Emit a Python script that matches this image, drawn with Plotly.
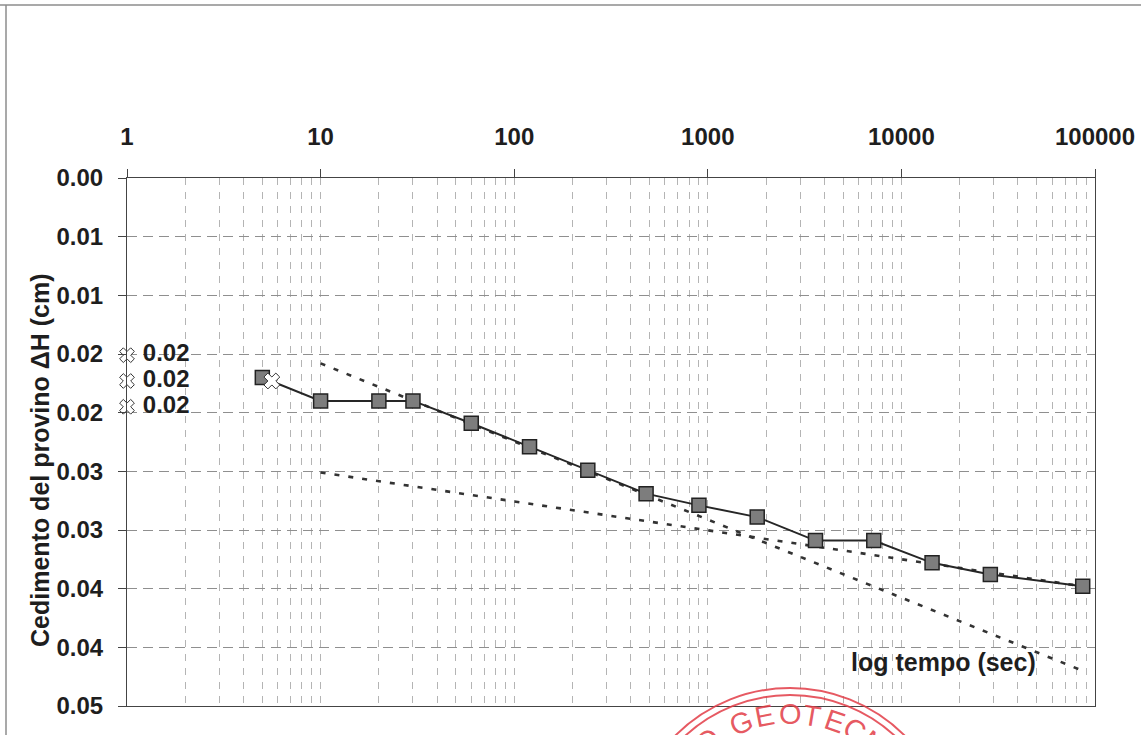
import numpy as np
import plotly.graph_objects as go

# curva cedimento - tempo
tempo = [5, 10, 20, 30, 60, 120, 240, 480, 900, 1800, 3600, 7200, 14400, 28800, 86400]
cedimento = [0.0170, 0.0190, 0.0190, 0.0190, 0.0209, 0.0229, 0.0249, 0.0269,
             0.0279, 0.0289, 0.0309, 0.0309, 0.0328, 0.0338, 0.0348]

# rette di costruzione (tratteggiate)
retta1_t = [10, 86400]
retta1_y = [0.0158, 0.0420]
retta2_t = [10, 86400]
retta2_y = [0.0251, 0.0348]

# punti ausiliari sull'asse (d0, d50, d100) + punto t0
aux_t = [1, 1, 1]
aux_y = [0.0151, 0.0173, 0.0195]
aux_lbl = ['0.02', '0.02', '0.02']
t0_t = [5.6]
t0_y = [0.0173]

x_ticks = [1, 10, 100, 1000, 10000, 100000]
x_tick_text = ['1', '10', '100', '1000', '10000', '100000']
y_ticks = [0.0, 0.005, 0.010, 0.015, 0.020, 0.025, 0.030, 0.035, 0.040, 0.045]
y_tick_text = ['0.00', '0.01', '0.01', '0.02', '0.02', '0.03', '0.03', '0.04', '0.04', '0.05']

stamp_letters = ['I', 'O', 'G', 'E', 'O', 'T', 'E', 'C', 'N']
stamp_angles = [-46, -37, -21, -11, 0, 9.5, 19, 28.5, 38]

W, H = 1141, 735
L, R, T, B = 127, 46, 178, 29
FONT = 'Liberation Sans, Arial, sans-serif'
TXT = '#1e1e1e'


def px2paper(px, py):
    return (px - L) / (W - L - R), 1 - (py - T) / (H - T - B)


fig = go.Figure()

fig.add_trace(go.Scatter(x=retta1_t, y=retta1_y, mode='lines',
                         line=dict(color='#333333', width=2.6, dash='5px,9px')))
fig.add_trace(go.Scatter(x=retta2_t, y=retta2_y, mode='lines',
                         line=dict(color='#333333', width=2.6, dash='5px,9px')))

fig.add_trace(go.Scatter(x=tempo, y=cedimento, mode='lines+markers',
                         line=dict(color='#262626', width=2),
                         marker=dict(symbol='square', size=14, color='#7d7d7d',
                                     line=dict(color='#222222', width=1.5))))

fig.add_trace(go.Scatter(x=t0_t, y=t0_y, mode='markers',
                         marker=dict(symbol='x', size=14, color='white',
                                     line=dict(color='#333333', width=1))))
fig.add_trace(go.Scatter(x=aux_t, y=aux_y, mode='markers+text', text=[' ' + s for s in aux_lbl],
                         textposition='middle right', cliponaxis=False,
                         textfont=dict(family=FONT, size=24, color=TXT, weight='bold'),
                         marker=dict(symbol='x', size=13, color='white',
                                     line=dict(color='#333333', width=1))))

# cornice della pagina scansionata
fig.add_shape(type='line', xref='paper', yref='paper',
              x0=px2paper(0, 5)[0], y0=px2paper(0, 5)[1],
              x1=px2paper(W, 5)[0], y1=px2paper(W, 5)[1],
              line=dict(color='#8c8c8c', width=1.5))
fig.add_shape(type='line', xref='paper', yref='paper',
              x0=px2paper(6, 5)[0], y0=px2paper(6, 5)[1],
              x1=px2paper(6, H)[0], y1=px2paper(6, H)[1],
              line=dict(color='#8c8c8c', width=1.5))

# timbro rosso (parzialmente visibile)
cx, cy = 790, 850
STAMP = 'rgba(226, 60, 70, 0.85)'
for r in [162, 155]:
    x0, y0 = px2paper(cx - r, cy - r)
    x1, y1 = px2paper(cx + r, cy + r)
    fig.add_shape(type='circle', xref='paper', yref='paper', x0=x0, y0=y0, x1=x1, y1=y1,
                  line=dict(color=STAMP, width=2), layer='above')
for ch, ang in zip(stamp_letters, stamp_angles):
    a = np.radians(ang)
    xx, yy = px2paper(cx + 136 * np.sin(a), cy - 136 * np.cos(a))
    fig.add_annotation(x=xx, y=yy, xref='paper', yref='paper', text=ch, showarrow=False,
                       textangle=ang, font=dict(family=FONT, size=29, color=STAMP),
                       xanchor='center', yanchor='middle')

# titoli
fig.add_annotation(x=px2paper(40, 460)[0], y=px2paper(40, 460)[1], xref='paper', yref='paper',
                   text='Cedimento del provino ΔH (cm)', showarrow=False, textangle=-90,
                   font=dict(family=FONT, size=25, color=TXT, weight='bold'),
                   xanchor='center', yanchor='middle')
fig.add_annotation(x=px2paper(943, 662)[0], y=px2paper(943, 662)[1], xref='paper', yref='paper',
                   text='log tempo (sec)', showarrow=False,
                   font=dict(family=FONT, size=25, color=TXT, weight='bold'),
                   xanchor='center', yanchor='middle')

fig.update_layout(
    width=W, height=H,
    margin=dict(l=L, r=R, t=T, b=B),
    paper_bgcolor='white', plot_bgcolor='white',
    showlegend=False,
    font=dict(family=FONT, size=24, color=TXT),
    xaxis=dict(type='log', range=[0, 5], side='top', automargin=False,
               tickvals=x_ticks, ticktext=x_tick_text,
               tickfont=dict(family=FONT, size=24, color=TXT, weight='bold'),
               ticks='outside', ticklen=8, tickcolor='#444', ticklabelstandoff=14,
               showline=True, linecolor='#444', linewidth=1.2, mirror=True,
               showgrid=True, gridcolor='#b4b4b4', gridwidth=1, griddash='7px,7px',
               minor=dict(dtick='D1', showgrid=True, gridcolor='#b4b4b4', gridwidth=1,
                          griddash='7px,7px'),
               zeroline=False),
    yaxis=dict(range=[0.045, 0], tickvals=y_ticks, ticktext=y_tick_text, automargin=False,
               tickfont=dict(family=FONT, size=24, color=TXT, weight='bold'),
               ticks='outside', ticklen=8, tickcolor='#444', ticklabelstandoff=10,
               showline=True, linecolor='#444', linewidth=1.2, mirror=True,
               showgrid=True, gridcolor='#8f8f8f', gridwidth=1, griddash='10px,6px',
               zeroline=False),
)

fig.write_html('out.html', config={'displayModeBar': False},
               post_script="document.body.style.margin='0';")
